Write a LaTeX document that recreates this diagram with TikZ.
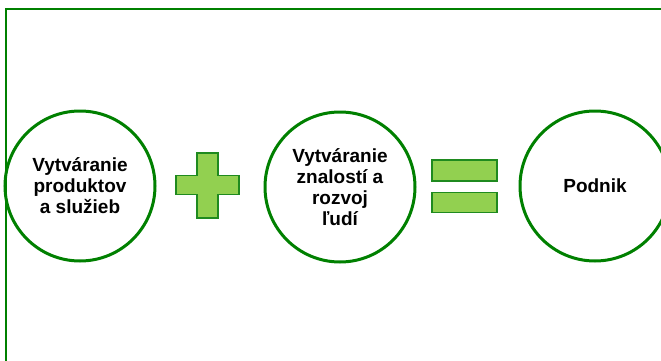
\documentclass[tikz,border=0pt]{standalone}
\usepackage{fontspec}
\setmainfont{Liberation Sans}
\usetikzlibrary{positioning}
\definecolor{darkgreen}{HTML}{008000}
\definecolor{lightgreen}{HTML}{92D050}
\definecolor{signline}{HTML}{1F8A1F}
\tikzstyle{part}=[circle,draw=darkgreen,line width=3pt,minimum size=150pt,
inner sep=0pt,align=center,font=\bfseries\fontsize{19}{21}\selectfont]
\tikzstyle{sign}=[draw=signline,fill=lightgreen,line width=1.5pt]
\tikzstyle{bar}=[rectangle,sign,minimum width=65pt,inner sep=0pt]

\begin{document}
\begin{tikzpicture}[x=1pt,y=-1pt]
    \useasboundingbox (0,0) rectangle (661,361);
    % frame, cut off at the right and bottom
    \draw[darkgreen,line width=2pt] (6,361) -- (6,9) -- (661,9);

    \node[part](produkty) at (80,186) {Vytváranie \\ produktov \\ a služieb};
    \node[part](znalosti) at (340,187) {Vytváranie \\ znalostí a \\ rozvoj \\ ľudí};
    \node[part](podnik) at (595,186) {Podnik};

    % plus sign
    \coordinate (plus) at (207.5,185.5);
    \draw[sign] (plus) ++(-10.5,-32.5) -- ++(21,0) -- ++(0,22.5) -- ++(21,0)
      -- ++(0,19) -- ++(-21,0) -- ++(0,23.5) -- ++(-21,0) -- ++(0,-23.5)
      -- ++(-21,0) -- ++(0,-19) -- ++(21,0) -- cycle;

    % equals sign
    \node[bar,minimum height=21pt](eqtop) at (464.5,170.5) {};
    \node[bar,minimum height=20pt,below=10pt of eqtop](eqbottom) {};
\end{tikzpicture}
\end{document}
